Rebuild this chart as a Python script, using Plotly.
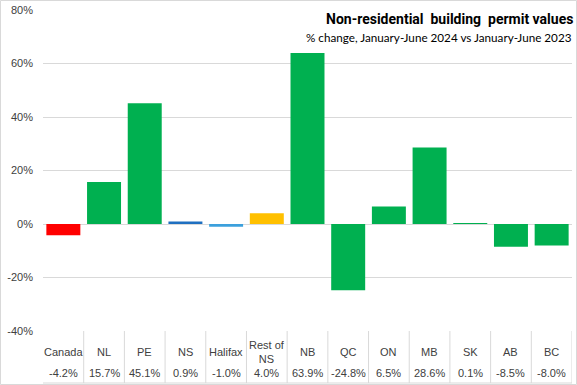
import plotly.graph_objects as go

categories = ["Canada", "NL", "PE", "NS", "Halifax", "Rest of<br>NS", "NB", "QC", "ON", "MB", "SK", "AB", "BC"]
values = [-4.2, 15.7, 45.1, 0.9, -1.0, 4.0, 63.9, -24.8, 6.5, 28.6, 0.1, -8.5, -8.0]
bar_colors = ["#FF0000", "#00B050", "#00B050", "#1F6FC0", "#3CA0DC", "#FFC000", "#00B050",
              "#00B050", "#00B050", "#00B050", "#00B050", "#00B050", "#00B050"]
y_ticks = [-40, -20, 0, 20, 40, 60, 80]
y_tick_labels = ["-40%", "-20%", "0%", "20%", "40%", "60%", "80%"]

W, H = 577, 385
ML, MR, MT, MB = 43, 5, 10, 54
PW, PH = W - ML - MR, H - MT - MB

def px_x(p):
    return (p - ML) / PW

def px_y(p):
    return (H - MB - p) / PH

n = len(categories)
xs = list(range(n))

fig = go.Figure(go.Bar(x=xs, y=values, marker=dict(color=bar_colors, line=dict(width=0)),
                       hoverinfo="skip"))

grid = "#D9D9D9"
txt = "#404040"
font_fam = "Liberation Sans, Arial, sans-serif"

shapes = []
for i in range(n):
    shapes.append(dict(type="line", xref="x", yref="paper", x0=i + 0.5, x1=i + 0.5,
                       y0=0, y1=px_y(383), line=dict(color=grid, width=1)))
shapes.append(dict(type="line", xref="paper", yref="paper", x0=0, x1=1,
                   y0=px_y(383), y1=px_y(383), line=dict(color=grid, width=1)))
shapes.append(dict(type="rect", xref="paper", yref="paper", x0=px_x(0.5), x1=px_x(576.5),
                   y0=px_y(384.5), y1=px_y(0.5), line=dict(color=grid, width=1)))

annotations = []
for i, (c, v) in enumerate(zip(categories, values)):
    annotations.append(dict(x=i, y=px_y(352), xref="x", yref="paper", text=c, showarrow=False,
                            font=dict(family=font_fam, size=11, color=txt), yanchor="middle"))
    annotations.append(dict(x=i, y=px_y(373), xref="x", yref="paper", text=f"{v:.1f}%",
                            showarrow=False, font=dict(family=font_fam, size=11, color=txt),
                            yanchor="middle"))

annotations.append(dict(x=px_x(575), y=px_y(19), xref="paper", yref="paper",
                        text="<b>Non-residential  building  permit values</b>", showarrow=False,
                        xanchor="right", yanchor="middle",
                        font=dict(family="Roboto, sans-serif", size=14, color="#000000")))
annotations.append(dict(x=px_x(574), y=px_y(37), xref="paper", yref="paper",
                        text="% change, January-June 2024 vs January-June 2023", showarrow=False,
                        xanchor="right", yanchor="middle",
                        font=dict(family="Lato, sans-serif", size=11.7, color="#000000")))

fig.update_layout(
    width=W, height=H,
    margin=dict(l=ML, r=MR, t=MT, b=MB, pad=0),
    paper_bgcolor="white", plot_bgcolor="white",
    bargap=0.165,
    showlegend=False,
    shapes=shapes,
    annotations=annotations,
    xaxis=dict(range=[-0.5, n - 0.5], showticklabels=False, showgrid=False, zeroline=False,
               showline=False, ticks=""),
    yaxis=dict(range=[-40, 80], tickvals=y_ticks, ticktext=y_tick_labels, showgrid=True,
               gridcolor=grid, gridwidth=1, zeroline=True, zerolinecolor=grid, zerolinewidth=1,
               showline=False, ticks="", ticklabelstandoff=9,
               tickfont=dict(family=font_fam, size=11, color=txt)),
)

fig.write_html("out.html", config={"displayModeBar": False},
               post_script="document.body.style.margin='0';document.body.style.overflow='hidden';")
